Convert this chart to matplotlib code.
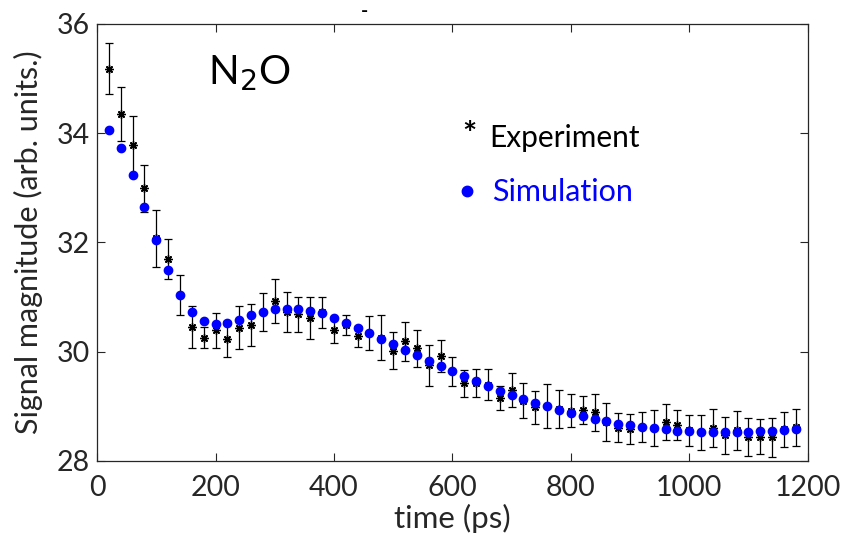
import numpy as np
import matplotlib.pyplot as plt

plt.rcParams['font.family'] = ['Lato', 'DejaVu Sans']

# time delays (ps)
time_ps = list(range(20, 1200, 20))

# experiment values and error bars
exp_val = [35.18, 34.35, 33.78, 32.99, 32.08, 31.70, 31.04, 30.45, 30.26, 30.39,
           30.23, 30.44, 30.49, 30.73, 30.93, 30.73, 30.69, 30.62, 30.72, 30.40,
           30.49, 30.28, 30.34, 30.26, 30.02, 30.19, 30.06, 29.75, 29.92, 29.64,
           29.42, 29.43, 29.40, 29.16, 29.30, 29.10, 28.98, 29.01, 28.95, 28.92,
           28.93, 28.89, 28.72, 28.61, 28.59, 28.62, 28.61, 28.71, 28.66, 28.56,
           28.53, 28.61, 28.47, 28.56, 28.44, 28.44, 28.43, 28.58, 28.62]
exp_err = [0.47, 0.50, 0.53, 0.43, 0.52, 0.36, 0.36, 0.38, 0.19, 0.32,
           0.33, 0.39, 0.39, 0.35, 0.40, 0.36, 0.32, 0.39, 0.29, 0.24,
           0.19, 0.19, 0.31, 0.41, 0.34, 0.36, 0.34, 0.37, 0.30, 0.27,
           0.24, 0.26, 0.28, 0.22, 0.31, 0.32, 0.31, 0.40, 0.35, 0.30,
           0.26, 0.34, 0.35, 0.27, 0.27, 0.28, 0.33, 0.33, 0.27, 0.29,
           0.32, 0.35, 0.34, 0.35, 0.34, 0.32, 0.35, 0.32, 0.34]

# simulation values
sim_val = [34.06, 33.73, 33.24, 32.65, 32.04, 31.49, 31.04, 30.73, 30.56, 30.50,
           30.52, 30.58, 30.67, 30.73, 30.78, 30.79, 30.79, 30.75, 30.70, 30.62,
           30.53, 30.44, 30.35, 30.24, 30.14, 30.04, 29.94, 29.83, 29.74, 29.64,
           29.55, 29.46, 29.38, 29.29, 29.21, 29.13, 29.06, 29.00, 28.94, 28.88,
           28.82, 28.77, 28.73, 28.68, 28.65, 28.62, 28.60, 28.58, 28.55, 28.54,
           28.53, 28.53, 28.53, 28.53, 28.53, 28.54, 28.55, 28.57, 28.59]

fig = plt.figure(figsize=(8.44, 5.44), dpi=100)
ax = fig.add_axes([0.115, 0.1526, 0.842, 0.8033])

ax.errorbar(time_ps, exp_val, yerr=exp_err, fmt='none', ecolor='black',
            elinewidth=0.9, capsize=3, capthick=0.9, zorder=2)
ax.plot(time_ps, exp_val, linestyle='none', marker=(8, 2, 0), color='black',
        markersize=6, markeredgewidth=1.0, zorder=3)
ax.plot(time_ps, sim_val, linestyle='none', marker='o', color=(0, 0, 1),
        markersize=6, zorder=4)

ax.set_xlim(0, 1200)
ax.set_ylim(28, 36)
ax.set_xticks([0, 200, 400, 600, 800, 1000, 1200])
ax.set_yticks([28, 30, 32, 34, 36])
ax.tick_params(direction='in', top=True, right=True, labelsize=20.5,
               colors='#262626', length=6, width=0.8)
ax.tick_params(axis='x', pad=10)
ax.tick_params(axis='y', pad=5)
for s in ax.spines.values():
    s.set_linewidth(0.9)
    s.set_color('#262626')

ax.set_xlabel('time (ps)', fontsize=22.5, color='#262626', labelpad=2)
ax.set_ylabel('Signal magnitude (arb. units.)', fontsize=22, color='#262626', labelpad=10)

ax.text(188, 35.1, r'N$_2$O', fontsize=29, ha='left', va='center')
ax.text(616, 33.95, '*', fontsize=24, ha='left', va='center', fontweight='bold')
ax.text(663, 33.92, 'Experiment', fontsize=21.5, ha='left', va='center')
ax.plot([625], [32.94], linestyle='none', marker='o', color=(0, 0, 1), markersize=7.5)
ax.text(667, 32.92, 'Simulation', fontsize=22, ha='left', va='center', color=(0, 0, 1))

fig.text(364 / 844, 1 - 11 / 544, '-', fontsize=14, ha='center', va='center',
         fontweight='bold')

fig.savefig('out.png', dpi=100)
